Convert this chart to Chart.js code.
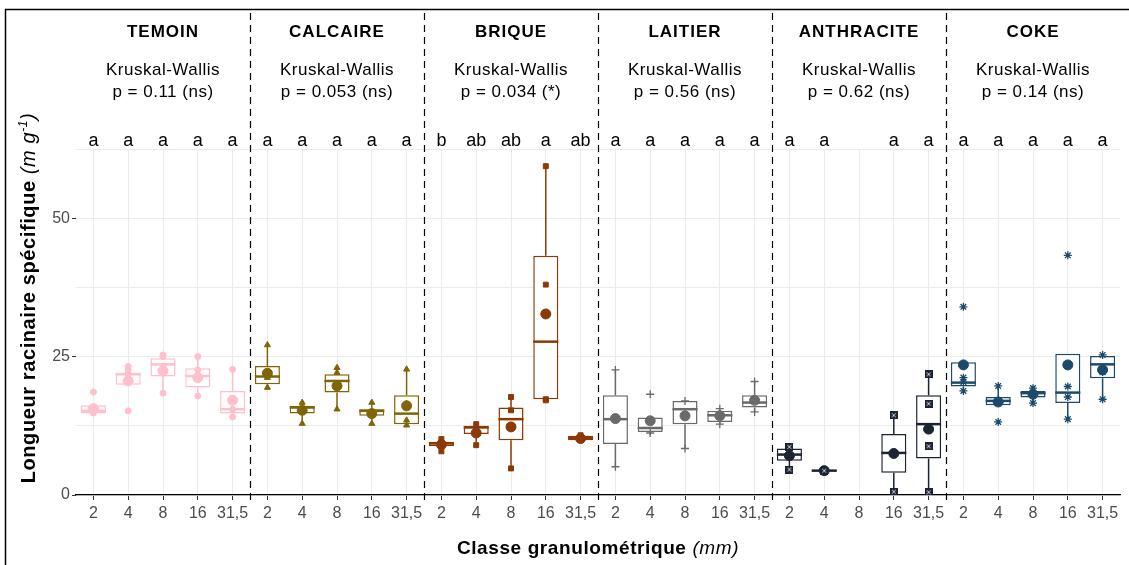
<!DOCTYPE html>
<html>
<head>
<meta charset="utf-8">
<script src="https://cdn.jsdelivr.net/npm/chart.js@4"></script>
<style>
  html, body { margin: 0; padding: 0; background: #fff; }
</style>
</head>
<body>
<canvas id="graphique" width="1129" height="565"></canvas>
<script>
// traitements (facettes) et classes granulométriques
const traitements = ['TEMOIN', 'CALCAIRE', 'BRIQUE', 'LAITIER', 'ANTHRACITE', 'COKE'];
const pvaleurs = ['p = 0.11 (ns)', 'p = 0.053 (ns)', 'p = 0.034 (*)', 'p = 0.56 (ns)', 'p = 0.62 (ns)', 'p = 0.14 (ns)'];
const classes = ['2', '4', '8', '16', '31,5'];
const lettres = ['a', 'a', 'a', 'a', 'a',  'a', 'a', 'a', 'a', 'a',  'b', 'ab', 'ab', 'a', 'ab',
                 'a', 'a', 'a', 'a', 'a',  'a', 'a', '', 'a', 'a',   'a', 'a', 'a', 'a', 'a'];

// statistiques des boites (30 = 6 traitements x 5 classes)
const q1 = [14.7, 19.9, 21.4, 19.4, 14.7,  20.0, 14.7, 18.5, 14.3, 12.8,  8.8, 11.0, 9.9, 17.3, 9.9,
            9.2, 11.4, 12.8, 13.2, 15.8,   6.2, 4.3, null, 4.0, 6.6,      19.6, 16.2, 17.6, 16.6, 21.1];
const mediane = [15.2, 21.8, 23.6, 21.5, 15.5,  21.4, 15.8, 20.6, 15.2, 14.7,  9.3, 12.2, 13.7, 27.7, 10.3,
                 13.7, 12.1, 15.5, 14.4, 16.7,  7.3, 4.4, null, 7.6, 12.8,     20.3, 17.0, 18.4, 18.5, 23.6];
const q3 = [16.2, 22.1, 24.7, 22.9, 18.8,  23.3, 16.1, 21.8, 15.5, 18.0,  9.6, 12.5, 15.8, 43.2, 10.7,
            18.0, 14.0, 17.0, 15.2, 18.0,  8.4, 4.5, null, 11.0, 18.0,    24.0, 17.7, 18.8, 25.5, 25.1];
const moustacheBas = [14.7, 19.9, 18.4, 17.9, 14.1,  19.4, 12.9, 15.5, 12.9, 12.6,  7.9, 9.0, 4.8, 17.1, 9.9,
                      5.1, 10.8, 8.4, 12.8, 15.0,    4.6, 4.3, null, 0.6, 0.5,      18.8, 16.2, 16.6, 13.7, 17.3];
const moustacheHaut = [16.2, 23.2, 25.3, 25.0, 22.7,  27.1, 16.7, 23.0, 16.7, 22.7,  10.1, 12.8, 17.7, 59.4, 10.7,
                       22.6, 14.0, 17.0, 15.6, 20.5,  8.7, 4.5, null, 14.4, 21.8,     24.0, 19.7, 19.3, 25.5, 25.3];
const moyenne = [15.6, 20.6, 22.4, 21.2, 17.1,  22.0, 15.3, 19.7, 14.7, 16.1,  9.1, 11.2, 12.3, 32.7, 10.2,
                 13.8, 13.4, 14.3, 14.3, 17.1,  7.1, 4.4, null, 7.5, 11.9,     23.5, 16.8, 18.2, 23.5, 22.6];
// observations individuelles
const observations = [
  [18.6, 15.4, 15.0, 14.8], [23.2, 22.6, 21.9, 15.2], [25.3, 25.0, 23.3, 22.7, 18.4], [25.0, 22.6, 21.5, 21.0, 17.9], [22.7, 15.5, 14.1],
  [27.1, 21.2, 19.4], [16.7, 15.6, 12.9], [23.0, 22.1, 15.5], [16.7, 15.0, 12.9], [22.7, 16.5, 13.5, 12.6],
  [10.1, 9.3, 7.9], [12.8, 12.0, 9.0], [17.7, 15.3, 4.8], [59.4, 38.0, 17.3, 17.1], [10.8, 10.2, 9.9],
  [22.6, 5.1], [18.2, 11.2], [17.0, 8.4], [15.6, 12.8], [20.5, 15.0],
  [8.7, 4.6], [4.4], [], [14.4, 0.6], [21.8, 16.5, 8.8, 0.5],
  [34.0, 21.2, 20.4, 18.8], [19.7, 17.0, 13.2], [19.3, 18.2, 16.6], [43.3, 19.6, 17.7, 13.7], [25.3, 22.7, 22.2, 17.3]
];

const couleurs = ['#ffc0cb', '#7f6508', '#8b3a05', '#6a6a6a', '#1c2333', '#1d4a6b'];
const police = "'Liberation Sans', Arial, sans-serif";

// symbole carré barré pour ANTHRACITE
const carreX = document.createElement('canvas');
carreX.width = 8; carreX.height = 8;
(function() {
  const c = carreX.getContext('2d');
  c.fillStyle = couleurs[4];
  c.fillRect(0, 0, 8, 8);
  c.strokeStyle = '#c9ccd3';
  c.lineWidth = 1;
  c.beginPath();
  c.moveTo(2, 2); c.lineTo(6, 6);
  c.moveTo(6, 2); c.lineTo(2, 6);
  c.stroke();
})();
const symboles = ['circle', 'triangle', 'rect', 'cross', carreX, 'star'];
const tailles = [3, 3.5, 3.5, 4, 4, 4];

const labels = [];
traitements.forEach(() => classes.forEach(c => labels.push(c)));
const facette = labels.map((_, i) => Math.floor(i / 5));
const couleurCat = facette.map(p => couleurs[p]);

const boites = q1.map((v, i) => (v === null ? null : [v, q3[i]]));

// une série par rang d'observation, posée sur l'axe des catégories
const nMax = Math.max(...observations.map(o => o.length));
const datasetsPoints = [];
for (let k = 0; k < nMax; k++) {
  datasetsPoints.push({
    type: 'line',
    data: observations.map(o => (o[k] === undefined ? null : o[k])),
    showLine: false,
    pointStyle: facette.map(p => symboles[p]),
    pointRadius: facette.map(p => tailles[p]),
    pointBackgroundColor: couleurCat,
    pointBorderColor: couleurCat,
    pointBorderWidth: facette.map(p => (p === 3 || p === 5 ? 1.3 : 1)),
    order: 1
  });
}

function texteMixte(ctx, parts, cx, y) {
  let total = 0;
  parts.forEach(pt => { ctx.font = pt.f; total += ctx.measureText(pt.t).width; });
  let x = cx - total / 2;
  parts.forEach(pt => {
    ctx.font = pt.f;
    ctx.fillText(pt.t, x, y + (pt.dy || 0));
    x += ctx.measureText(pt.t).width;
  });
}

const decor = {
  id: 'decor',
  afterDatasetDraw(chart, args) {
    if (args.index !== 0) return;
    const ctx = chart.ctx;
    const y = chart.scales.y;
    const meta = chart.getDatasetMeta(0);
    ctx.save();
    meta.data.forEach((el, i) => {
      if (q1[i] === null) return;
      ctx.strokeStyle = couleurCat[i];
      ctx.lineWidth = 1.5;
      ctx.beginPath();
      ctx.moveTo(el.x, y.getPixelForValue(moustacheHaut[i]));
      ctx.lineTo(el.x, y.getPixelForValue(q3[i]));
      ctx.moveTo(el.x, y.getPixelForValue(q1[i]));
      ctx.lineTo(el.x, y.getPixelForValue(moustacheBas[i]));
      ctx.stroke();
      ctx.lineWidth = 2.5;
      const ym = y.getPixelForValue(mediane[i]);
      ctx.beginPath();
      ctx.moveTo(el.x - el.width / 2, ym);
      ctx.lineTo(el.x + el.width / 2, ym);
      ctx.stroke();
    });
    ctx.restore();
  },
  afterDraw(chart) {
    const ctx = chart.ctx;
    const x = chart.scales.x;
    ctx.save();
    // separateurs
    ctx.strokeStyle = '#000';
    ctx.lineWidth = 1.2;
    ctx.setLineDash([7, 5]);
    for (let p = 1; p < traitements.length; p++) {
      const xs = Math.round((x.getPixelForTick(p * 5 - 1) + x.getPixelForTick(p * 5)) / 2) + 0.5;
      ctx.beginPath();
      ctx.moveTo(xs, 13);
      ctx.lineTo(xs, 504);
      ctx.stroke();
    }
    ctx.setLineDash([]);
    // titres de facettes
    ctx.fillStyle = '#000';
    ctx.textAlign = 'center';
    ctx.textBaseline = 'alphabetic';
    traitements.forEach((t, p) => {
      const cx = (x.getPixelForTick(p * 5) + x.getPixelForTick(p * 5 + 4)) / 2;
      ctx.letterSpacing = '1px';
      ctx.font = 'bold 17px ' + police;
      ctx.fillText(t, cx, 37);
      ctx.letterSpacing = '0.5px';
      ctx.font = '17px ' + police;
      ctx.fillText('Kruskal-Wallis', cx, 75);
      ctx.fillText(pvaleurs[p], cx, 97);
    });
    ctx.letterSpacing = '0px';
    ctx.font = '18px ' + police;
    lettres.forEach((l, i) => ctx.fillText(l, x.getPixelForTick(i), 146));
    // titres d'axes
    ctx.textAlign = 'left';
    ctx.letterSpacing = '0.6px';
    texteMixte(ctx, [
      { t: 'Classe granulométrique ', f: 'bold 19px ' + police },
      { t: '(mm)', f: 'italic 19px ' + police }
    ], (chart.chartArea.left + chart.chartArea.right) / 2, 554);
    ctx.save();
    ctx.translate(35, 298);
    ctx.rotate(-Math.PI / 2);
    texteMixte(ctx, [
      { t: 'Longueur racinaire spécifique ', f: 'bold 20px ' + police },
      { t: '(m g', f: 'italic 20px ' + police },
      { t: '-1', f: 'italic 12px ' + police, dy: -8 },
      { t: ')', f: 'italic 20px ' + police }
    ], 0, 0);
    ctx.restore();
    ctx.letterSpacing = '0px';
    // cadre
    ctx.strokeStyle = '#000';
    ctx.lineWidth = 1.5;
    ctx.strokeRect(5.5, 9.5, 2000, 2000);
    ctx.restore();
  }
};

const ctx = document.getElementById('graphique').getContext('2d');
new Chart(ctx, {
  type: 'bar',
  data: {
    labels: labels,
    datasets: [
      {
        data: boites,
        backgroundColor: '#fff',
        borderColor: couleurCat,
        borderWidth: 1.5,
        borderSkipped: false,
        grouped: false,
        categoryPercentage: 1,
        barPercentage: 0.72,
        order: 3
      },
      {
        type: 'line',
        data: moyenne,
        showLine: false,
        pointStyle: 'circle',
        pointRadius: 5,
        pointBackgroundColor: couleurCat,
        pointBorderColor: couleurCat,
        order: 2
      },
      ...datasetsPoints
    ]
  },
  options: {
    responsive: false,
    animation: false,
    layout: { padding: { top: 149, right: 9, left: 0, bottom: 0 } },
    plugins: { legend: { display: false }, tooltip: { enabled: false } },
    scales: {
      x: {
        type: 'category',
        offset: true,
        grid: { offset: false, color: '#ebebeb', tickColor: '#333', tickLength: 5 },
        border: { color: '#000', width: 1.2 },
        ticks: { color: '#4d4d4d', font: { size: 16, family: police }, padding: 4, maxRotation: 0, autoSkip: false },
        afterFit: s => { s.height = 70; }
      },
      y: {
        min: 0,
        max: 62.5,
        ticks: {
          stepSize: 12.5,
          color: '#4d4d4d',
          font: { size: 16, family: police },
          padding: 2,
          callback: v => (v % 25 === 0 ? String(v) : '')
        },
        grid: {
          color: '#ebebeb',
          tickLength: 4,
          tickColor: c => (c.tick && c.tick.value % 25 === 0 ? '#333' : 'rgba(0,0,0,0)')
        },
        border: { display: false },
        afterFit: s => { s.width = 76; }
      }
    }
  },
  plugins: [decor]
});
</script>
</body>
</html>
